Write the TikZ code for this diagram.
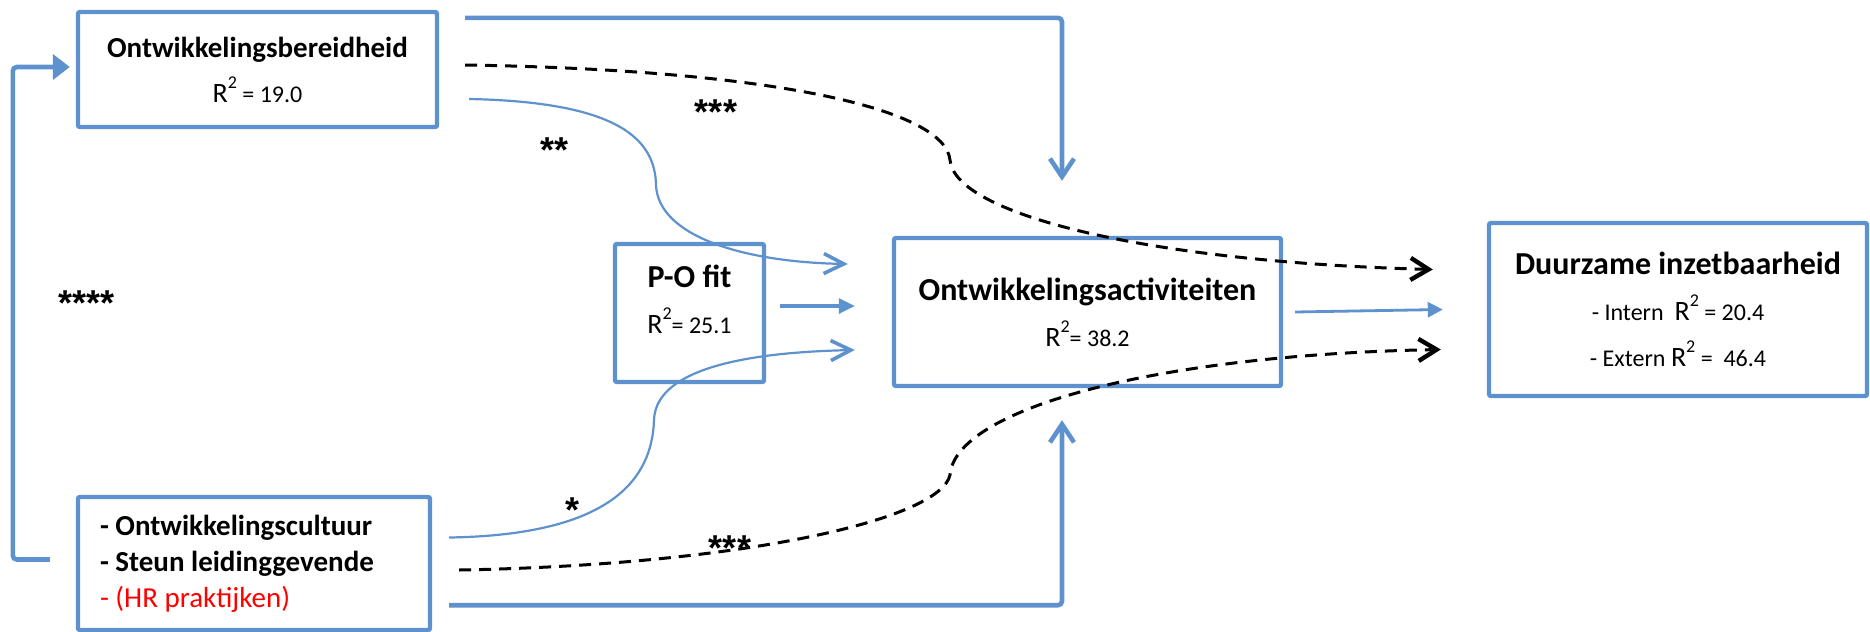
\documentclass[tikz,border=0pt]{standalone}
\usepackage{fontspec}
\setmainfont{Carlito}
\newfontfamily\starfont{Liberation Sans}
\definecolor{pathblue}{RGB}{94,146,206}
\definecolor{hrred}{RGB}{255,0,0}
\usetikzlibrary{arrows.meta,positioning,calc}
\newcommand{\rsq}{{\fontsize{14}{23}\selectfont R}\raisebox{7pt}{\fontsize{9}{9}\selectfont 2}}

\begin{document}
\begin{tikzpicture}[x=0.5pt, y=-0.5pt,
  varbox/.style={draw=pathblue, line width=2.2pt, rounded corners=1pt, align=center, inner sep=0pt},
  thickpath/.style={pathblue, line width=2.3pt, rounded corners=2pt},
  thinpath/.style={pathblue, line width=1.1pt, -{Straight Barb[length=10pt,width=10pt,line width=1.8pt]}},
  dashpath/.style={black, line width=1.5pt, dash pattern=on 6pt off 4pt, -{Straight Barb[length=9pt,width=11pt,line width=2.2pt]}},
  starlabel/.style={font=\starfont\fontsize{18}{20}\selectfont\bfseries}]
\useasboundingbox (0,0) rectangle (1870,632);
% Boxes
\node[varbox, minimum width=179.5pt, minimum height=57.5pt, font=\fontsize{14.5}{22.5}\selectfont] (bereid) at (257.5,69.5)
  {\textbf{Ontwikkelingsbereidheid}\\\rsq{\fontsize{12}{22.5}\selectfont\ = 19.0}};
\node[varbox, align=flush left, text width=154pt, minimum width=176pt, minimum height=66.5pt, font=\fontsize{14.5}{18}\selectfont] (culture) at (254,563.5)
  {\textbf{- Ontwikkelingscultuur}\\\textbf{- Steun leidinggevende}\\\textcolor{hrred}{- (HR praktijken)}};
\node[varbox, minimum width=74.5pt, minimum height=69pt, text depth=14pt, font=\fontsize{16}{23}\selectfont] (pofit) at (689.5,313)
  {\textbf{P-O fit}\\\rsq{\fontsize{12}{23}\selectfont = 25.1}};
\node[varbox, minimum width=193.5pt, minimum height=74pt, font=\fontsize{16}{23}\selectfont] (OA) at (1087.5,312)
  {\textbf{Ontwikkelingsactiviteiten}\\\rsq{\fontsize{12}{23}\selectfont = 38.2}};
\node[varbox, minimum width=189pt, minimum height=86.5pt, font=\fontsize{16}{23}\selectfont] (DI) at (1678,309.5)
  {\textbf{Duurzame inzetbaarheid}\\{\fontsize{12}{23}\selectfont - Intern\ \ }\rsq{\fontsize{12}{23}\selectfont\ = 20.4}\\{\fontsize{12}{23}\selectfont - Extern }\rsq{\fontsize{12}{23}\selectfont\ =\ \ 46.4}};
% Direct paths
\draw[thickpath, -{Triangle[length=8.5pt,width=12.5pt]}] ([xshift=-13pt,yshift=2pt]culture.west) -- ++(-37,0) |- ([xshift=-3pt,yshift=1.25pt]bereid.west);
\draw[thickpath, -{Straight Barb[length=9pt,width=12pt]}] ([xshift=13pt,yshift=-4pt]bereid.north east) -| ([xshift=-12.75pt,yshift=27.5pt]OA.north);
\draw[thickpath, -{Straight Barb[length=9pt,width=12pt]}] ([xshift=8.5pt,yshift=13.5pt]culture.south east) -| ([xshift=-12.75pt,yshift=-16pt]OA.south);
\draw[pathblue, line width=1.6pt, -{Triangle[length=8pt,width=7.5pt]}] ([xshift=7pt,yshift=3.5pt]pofit.east) -- ([xshift=-18.5pt,yshift=3pt]OA.west);
\draw[pathblue, line width=1.4pt, -{Triangle[length=7.5pt,width=7.5pt]}] ([xshift=6pt]OA.east) -- ([xshift=-22pt]DI.west);
% Curved paths via P-O fit
\draw[thinpath] ([xshift=15pt,yshift=-14.75pt]bereid.east) .. controls (620,102) and (655,140) .. (656,185)
  .. controls (658,235) and (740,262) .. ([xshift=-22pt,yshift=24pt]OA.west);
\draw[thinpath] ([xshift=8.5pt,yshift=13pt]culture.east) .. controls (610,535) and (652,480) .. (654,420)
  .. controls (656,365) and (760,352) .. ([xshift=-18.5pt,yshift=-19pt]OA.west);
% Dashed paths to outcome
\draw[dashpath] ([xshift=13pt,yshift=2.25pt]bereid.east) .. controls (780,70) and (945,110) .. (950,160)
  .. controls (955,215) and (1150,262) .. ([xshift=-27pt,yshift=20pt]DI.west);
\draw[dashpath] ([xshift=13.5pt,yshift=-3.25pt]culture.east) .. controls (740,565) and (940,520) .. (950,475)
  .. controls (955,410) and (1150,355) .. ([xshift=-23pt,yshift=-20pt]DI.west);
% Significance
\node[starlabel] (sig4) at (87,303) {****};
\node[starlabel] (sig2) at (555,150) {**};
\node[starlabel] (sig3a) at (716,112) {***};
\node[starlabel] (sig1) at (572,510) {*};
\node[starlabel] (sig3b) at (730,548) {***};
\end{tikzpicture}
\end{document}
